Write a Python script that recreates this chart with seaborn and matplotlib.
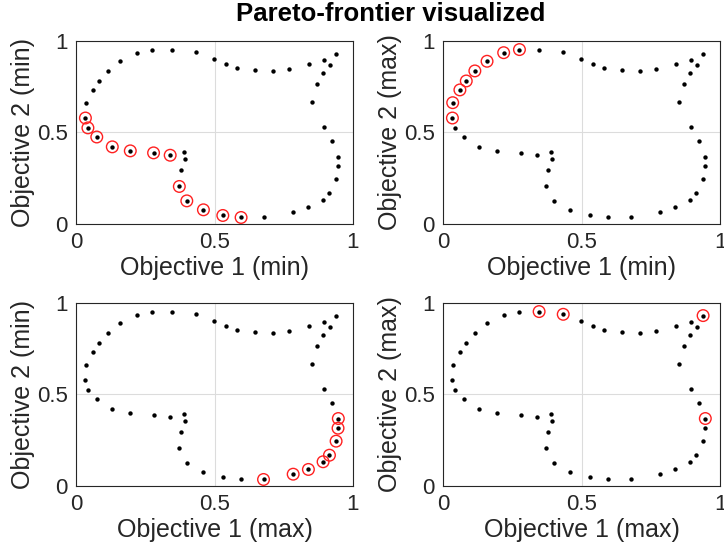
import numpy as np
import pandas as pd
import matplotlib
matplotlib.use("Agg")
import matplotlib.pyplot as plt
import seaborn as sns

sns.set_style("white")
plt.rcParams["font.family"] = ["Liberation Sans", "DejaVu Sans"]

# all points (same set in every panel)
obj1 = [0.219, 0.276, 0.347, 0.434, 0.499, 0.541, 0.583, 0.645, 0.712, 0.768,
        0.841, 0.894, 0.939, 0.916, 0.891, 0.871, 0.853, 0.894, 0.924, 0.947,
        0.946, 0.939, 0.915, 0.892, 0.839, 0.784, 0.677, 0.596, 0.530, 0.460,
        0.400, 0.373, 0.380, 0.395, 0.389, 0.340, 0.280, 0.196, 0.131, 0.075,
        0.043, 0.034, 0.035, 0.061, 0.084, 0.115, 0.159]
obj2 = [0.936, 0.953, 0.953, 0.938, 0.903, 0.874, 0.852, 0.841, 0.838, 0.845,
        0.872, 0.894, 0.931, 0.869, 0.825, 0.766, 0.668, 0.529, 0.454, 0.367,
        0.314, 0.243, 0.166, 0.130, 0.088, 0.062, 0.033, 0.033, 0.044, 0.075,
        0.124, 0.203, 0.294, 0.354, 0.394, 0.374, 0.387, 0.398, 0.420, 0.474,
        0.524, 0.578, 0.662, 0.732, 0.781, 0.836, 0.889]

# pareto-optimal point indices for each panel
front_min_min = [27, 28, 29, 30, 31, 35, 36, 37, 38, 39, 40, 41]
front_min_max = [41, 42, 43, 44, 45, 46, 0, 1]
front_max_min = [26, 25, 24, 23, 22, 21, 20, 19]
front_max_max = [2, 3, 12, 19]

panels = [
    ("Objective 1 (min)", "Objective 2 (min)", front_min_min),
    ("Objective 1 (min)", "Objective 2 (max)", front_min_max),
    ("Objective 1 (max)", "Objective 2 (min)", front_max_min),
    ("Objective 1 (max)", "Objective 2 (max)", front_max_max),
]

df = pd.DataFrame({"x": obj1, "y": obj2})
dark = "#262626"

fig = plt.figure(figsize=(7.24, 5.46), dpi=100)
W, H = 724, 546
boxes = [(76, 41), (443, 41), (76, 303), (443, 303)]

for (xl, yl, front), (px, py) in zip(panels, boxes):
    ax = fig.add_axes([px / W, 1 - (py + 182.5) / H, 277 / W, 182.5 / H])
    sns.scatterplot(data=df, x="x", y="y", ax=ax, color="black", s=10,
                    linewidth=0, zorder=3)
    sns.scatterplot(data=df.iloc[front], x="x", y="y", ax=ax, s=70,
                    facecolor="none", edgecolor="#ff2020", linewidth=1.0,
                    zorder=4)
    ax.set_xlim(0, 1)
    ax.set_ylim(0, 1)
    ax.set_xticks([0, 0.5, 1])
    ax.set_yticks([0, 0.5, 1])
    ax.set_xticklabels(["0", "0.5", "1"])
    ax.set_yticklabels(["0", "0.5", "1"])
    ax.grid(True, color="#dcdcdc", linewidth=0.8)
    ax.set_axisbelow(True)
    ax.tick_params(direction="in", length=3, width=0.8, colors=dark,
                   labelsize=16, pad=6, labelcolor=dark)
    for sp in ax.spines.values():
        sp.set_color(dark)
        sp.set_linewidth(0.8)
    ax.set_xlabel(xl, fontsize=18, color=dark, labelpad=2)
    ax.set_ylabel(yl, fontsize=18, color=dark, labelpad=1)

fig.text(391 / W, 1 - 14 / H, "Pareto-frontier visualized", ha="center",
         va="center", fontsize=18.5, fontweight="bold", color="black")

fig.savefig("out.png", dpi=100)
